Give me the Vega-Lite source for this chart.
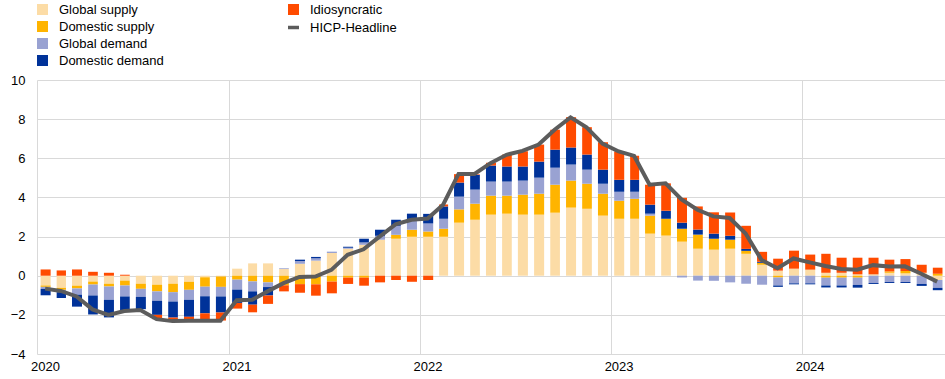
{
  "$schema": "https://vega.github.io/schema/vega-lite/v6.json",
  "width": 908,
  "height": 274,
  "autosize": {"type": "none"},
  "padding": {"left": 37, "top": 80, "right": 0, "bottom": 25},
  "config": {
    "font": "Liberation Sans",
    "view": {"stroke": null},
    "legend": {"padding": 0},
    "axisY": {
      "values": [-4, -2, 0, 2, 4, 6, 8, 10],
      "grid": true,
      "gridColor": "#d9d9d9",
      "gridWidth": 1,
      "domain": false,
      "ticks": false,
      "labelPadding": 12,
      "labelFontSize": 13,
      "labelColor": "#000000",
      "labelFont": "Liberation Sans",
      "title": null
    },
    "axisX": {
      "grid": true,
      "gridColor": "#d9d9d9",
      "gridWidth": 1,
      "domain": false,
      "ticks": false,
      "labelAlign": "center",
      "labelOffset": 8,
      "labelPadding": 6,
      "labelFontSize": 13,
      "labelColor": "#000000",
      "labelFont": "Liberation Sans",
      "title": null
    }
  },
  "data": {
    "values": [
      {"month": "2020-01", "Global supply": -0.5, "Domestic supply": -0.07, "Global demand": -0.1, "Domestic demand": -0.33, "Idiosyncratic": 0.32, "HICP": -0.66},
      {"month": "2020-02", "Global supply": -0.62, "Domestic supply": -0.1, "Global demand": -0.12, "Domestic demand": -0.3, "Idiosyncratic": 0.27, "HICP": -0.78},
      {"month": "2020-03", "Global supply": -0.51, "Domestic supply": -0.14, "Global demand": -0.32, "Domestic demand": -0.61, "Idiosyncratic": 0.32, "HICP": -1.06},
      {"month": "2020-04", "Global supply": -0.3, "Domestic supply": -0.15, "Global demand": -0.56, "Domestic demand": -0.97, "Idiosyncratic": 0.2, "HICP": -1.72},
      {"month": "2020-05", "Global supply": -0.41, "Domestic supply": -0.14, "Global demand": -0.68, "Domestic demand": -0.9, "Idiosyncratic": 0.15, "HICP": -2.0},
      {"month": "2020-06", "Global supply": -0.25, "Domestic supply": -0.25, "Global demand": -0.56, "Domestic demand": -0.7, "Idiosyncratic": 0.05, "HICP": -1.8},
      {"month": "2020-07", "Global supply": -0.41, "Domestic supply": -0.26, "Global demand": -0.41, "Domestic demand": -0.63, "Idiosyncratic": 0, "HICP": -1.75},
      {"month": "2020-08", "Global supply": -0.46, "Domestic supply": -0.34, "Global demand": -0.48, "Domestic demand": -0.72, "Idiosyncratic": -0.22, "HICP": -2.22},
      {"month": "2020-09", "Global supply": -0.41, "Domestic supply": -0.43, "Global demand": -0.48, "Domestic demand": -0.82, "Idiosyncratic": -0.12, "HICP": -2.32},
      {"month": "2020-10", "Global supply": -0.31, "Domestic supply": -0.41, "Global demand": -0.51, "Domestic demand": -0.87, "Idiosyncratic": -0.15, "HICP": -2.3},
      {"month": "2020-11", "Global supply": -0.08, "Domestic supply": -0.48, "Global demand": -0.49, "Domestic demand": -0.87, "Idiosyncratic": -0.31, "HICP": -2.3},
      {"month": "2020-12", "Global supply": -0.04, "Domestic supply": -0.53, "Global demand": -0.49, "Domestic demand": -0.82, "Idiosyncratic": -0.41, "HICP": -2.3},
      {"month": "2021-01", "Global supply": 0.36, "Domestic supply": -0.2, "Global demand": -0.51, "Domestic demand": -0.68, "Idiosyncratic": -0.29, "HICP": -1.25},
      {"month": "2021-02", "Global supply": 0.63, "Domestic supply": -0.29, "Global demand": -0.51, "Domestic demand": -0.68, "Idiosyncratic": -0.39, "HICP": -1.23},
      {"month": "2021-03", "Global supply": 0.63, "Domestic supply": -0.34, "Global demand": -0.24, "Domestic demand": -0.43, "Idiosyncratic": -0.43, "HICP": -0.8},
      {"month": "2021-04", "Global supply": 0.34, "Domestic supply": -0.49, "Global demand": 0.04, "Domestic demand": 0, "Idiosyncratic": -0.31, "HICP": -0.38},
      {"month": "2021-05", "Global supply": 0.61, "Domestic supply": -0.43, "Global demand": 0.14, "Domestic demand": 0.07, "Idiosyncratic": -0.44, "HICP": -0.06},
      {"month": "2021-06", "Global supply": 0.77, "Domestic supply": -0.44, "Global demand": 0.12, "Domestic demand": 0.07, "Idiosyncratic": -0.58, "HICP": -0.04},
      {"month": "2021-07", "Global supply": 1.16, "Domestic supply": -0.3, "Global demand": 0.07, "Domestic demand": 0, "Idiosyncratic": -0.6, "HICP": 0.3},
      {"month": "2021-08", "Global supply": 1.38, "Domestic supply": -0.1, "Global demand": 0.05, "Domestic demand": 0.05, "Idiosyncratic": -0.32, "HICP": 1.07},
      {"month": "2021-09", "Global supply": 1.58, "Domestic supply": -0.1, "Global demand": 0.12, "Domestic demand": 0.19, "Idiosyncratic": -0.41, "HICP": 1.35},
      {"month": "2021-10", "Global supply": 1.84, "Domestic supply": 0, "Global demand": 0.2, "Domestic demand": 0.31, "Idiosyncratic": -0.34, "HICP": 2.0},
      {"month": "2021-11", "Global supply": 1.89, "Domestic supply": 0.2, "Global demand": 0.46, "Domestic demand": 0.31, "Idiosyncratic": -0.22, "HICP": 2.62},
      {"month": "2021-12", "Global supply": 1.99, "Domestic supply": 0.36, "Global demand": 0.55, "Domestic demand": 0.27, "Idiosyncratic": -0.31, "HICP": 2.86},
      {"month": "2022-01", "Global supply": 1.99, "Domestic supply": 0.27, "Global demand": 0.41, "Domestic demand": 0.49, "Idiosyncratic": -0.22, "HICP": 2.92},
      {"month": "2022-02", "Global supply": 1.99, "Domestic supply": 0.41, "Global demand": 0.51, "Domestic demand": 0.63, "Idiosyncratic": 0.1, "HICP": 3.63},
      {"month": "2022-03", "Global supply": 2.71, "Domestic supply": 0.68, "Global demand": 0.65, "Domestic demand": 0.72, "Idiosyncratic": 0.43, "HICP": 5.2},
      {"month": "2022-04", "Global supply": 2.86, "Domestic supply": 0.82, "Global demand": 0.72, "Domestic demand": 0.75, "Idiosyncratic": 0.03, "HICP": 5.2},
      {"month": "2022-05", "Global supply": 3.12, "Domestic supply": 0.97, "Global demand": 0.72, "Domestic demand": 0.82, "Idiosyncratic": 0.14, "HICP": 5.75},
      {"month": "2022-06", "Global supply": 3.17, "Domestic supply": 0.92, "Global demand": 0.72, "Domestic demand": 0.77, "Idiosyncratic": 0.61, "HICP": 6.18},
      {"month": "2022-07", "Global supply": 3.12, "Domestic supply": 1.02, "Global demand": 0.72, "Domestic demand": 0.72, "Idiosyncratic": 0.78, "HICP": 6.38},
      {"month": "2022-08", "Global supply": 3.12, "Domestic supply": 1.07, "Global demand": 0.82, "Domestic demand": 0.82, "Idiosyncratic": 0.87, "HICP": 6.7},
      {"month": "2022-09", "Global supply": 3.22, "Domestic supply": 1.43, "Global demand": 0.87, "Domestic demand": 0.92, "Idiosyncratic": 1.02, "HICP": 7.46},
      {"month": "2022-10", "Global supply": 3.48, "Domestic supply": 1.38, "Global demand": 0.82, "Domestic demand": 0.87, "Idiosyncratic": 1.55, "HICP": 8.09},
      {"month": "2022-11", "Global supply": 3.42, "Domestic supply": 1.28, "Global demand": 0.72, "Domestic demand": 0.77, "Idiosyncratic": 1.4, "HICP": 7.58},
      {"month": "2022-12", "Global supply": 3.07, "Domestic supply": 1.12, "Global demand": 0.51, "Domestic demand": 0.72, "Idiosyncratic": 1.4, "HICP": 6.75},
      {"month": "2023-01", "Global supply": 2.91, "Domestic supply": 0.92, "Global demand": 0.46, "Domestic demand": 0.61, "Idiosyncratic": 1.45, "HICP": 6.35},
      {"month": "2023-02", "Global supply": 2.91, "Domestic supply": 1.02, "Global demand": 0.36, "Domestic demand": 0.61, "Idiosyncratic": 1.23, "HICP": 6.12},
      {"month": "2023-03", "Global supply": 2.15, "Domestic supply": 0.92, "Global demand": 0.1, "Domestic demand": 0.46, "Idiosyncratic": 1.02, "HICP": 4.65},
      {"month": "2023-04", "Global supply": 2.05, "Domestic supply": 0.86, "Global demand": 0, "Domestic demand": 0.41, "Idiosyncratic": 1.4, "HICP": 4.72},
      {"month": "2023-05", "Global supply": 1.74, "Domestic supply": 0.66, "Global demand": -0.09, "Domestic demand": 0.31, "Idiosyncratic": 1.27, "HICP": 3.9},
      {"month": "2023-06", "Global supply": 1.38, "Domestic supply": 0.72, "Global demand": -0.25, "Domestic demand": 0.26, "Idiosyncratic": 1.18, "HICP": 3.37},
      {"month": "2023-07", "Global supply": 1.33, "Domestic supply": 0.56, "Global demand": -0.26, "Domestic demand": 0.26, "Idiosyncratic": 1.09, "HICP": 3.03},
      {"month": "2023-08", "Global supply": 1.38, "Domestic supply": 0.46, "Global demand": -0.34, "Domestic demand": 0.2, "Idiosyncratic": 1.19, "HICP": 2.95},
      {"month": "2023-09", "Global supply": 1.12, "Domestic supply": 0.15, "Global demand": -0.41, "Domestic demand": 0.1, "Idiosyncratic": 1.18, "HICP": 2.16},
      {"month": "2023-10", "Global supply": 0.56, "Domestic supply": 0.1, "Global demand": -0.46, "Domestic demand": 0.05, "Idiosyncratic": 0.51, "HICP": 0.8},
      {"month": "2023-11", "Global supply": 0.26, "Domestic supply": -0.09, "Global demand": -0.41, "Domestic demand": -0.07, "Idiosyncratic": 0.61, "HICP": 0.38},
      {"month": "2023-12", "Global supply": 0.36, "Domestic supply": 0, "Global demand": -0.39, "Domestic demand": -0.05, "Idiosyncratic": 0.92, "HICP": 0.88},
      {"month": "2024-01", "Global supply": 0.31, "Domestic supply": 0, "Global demand": -0.39, "Domestic demand": -0.05, "Idiosyncratic": 0.77, "HICP": 0.68},
      {"month": "2024-02", "Global supply": 0.15, "Domestic supply": -0.1, "Global demand": -0.4, "Domestic demand": -0.1, "Idiosyncratic": 0.97, "HICP": 0.5},
      {"month": "2024-03", "Global supply": 0.15, "Domestic supply": -0.1, "Global demand": -0.4, "Domestic demand": -0.1, "Idiosyncratic": 0.77, "HICP": 0.34},
      {"month": "2024-04", "Global supply": 0.07, "Domestic supply": -0.1, "Global demand": -0.37, "Domestic demand": -0.14, "Idiosyncratic": 0.85, "HICP": 0.31},
      {"month": "2024-05", "Global supply": 0.07, "Domestic supply": 0, "Global demand": -0.37, "Domestic demand": -0.05, "Idiosyncratic": 0.85, "HICP": 0.54},
      {"month": "2024-06", "Global supply": 0.15, "Domestic supply": 0.07, "Global demand": -0.32, "Domestic demand": -0.05, "Idiosyncratic": 0.6, "HICP": 0.47},
      {"month": "2024-07", "Global supply": 0.12, "Domestic supply": 0.12, "Global demand": -0.32, "Domestic demand": -0.05, "Idiosyncratic": 0.61, "HICP": 0.48},
      {"month": "2024-08", "Global supply": 0.15, "Domestic supply": 0, "Global demand": -0.42, "Domestic demand": -0.1, "Idiosyncratic": 0.41, "HICP": 0.1},
      {"month": "2024-09", "Global supply": -0.22, "Domestic supply": 0.1, "Global demand": -0.4, "Domestic demand": -0.12, "Idiosyncratic": 0.31, "HICP": -0.3}
    ]
  },
  "encoding": {
    "x": {
      "field": "month",
      "timeUnit": "utcyearmonth",
      "type": "temporal",
      "scale": {"domain": [{"year": 2020, "month": 1, "date": 1, "utc": true}, {"year": 2024, "month": 10, "date": 1, "utc": true}]},
      "axis": {
        "values": [{"year": 2020, "utc": true}, {"year": 2021, "utc": true}, {"year": 2022, "utc": true}, {"year": 2023, "utc": true}, {"year": 2024, "utc": true}],
        "format": "%Y"
      }
    }
  },
  "layer": [
    {
      "transform": [
        {"fold": ["Global supply", "Domestic supply", "Global demand", "Domestic demand", "Idiosyncratic"], "as": ["component", "value"]},
        {"window": [{"op": "row_number", "as": "rank"}], "groupby": ["month"]}
      ],
      "mark": {"type": "bar", "width": {"band": 0.68}},
      "encoding": {
        "y": {
          "field": "value",
          "type": "quantitative",
          "stack": "zero",
          "scale": {"domain": [-4, 10], "nice": false, "zero": false}
        },
        "order": {"field": "rank", "type": "quantitative", "sort": "ascending"},
        "fill": {
          "field": "component",
          "type": "nominal",
          "scale": {
            "domain": ["Global supply", "Domestic supply", "Global demand", "Domestic demand", "Idiosyncratic"],
            "range": ["#fcdca6", "#ffb400", "#99a2d2", "#003299", "#ff4b00"]
          },
          "legend": {
            "values": ["Global supply", "Domestic supply", "Global demand", "Domestic demand"],
            "title": null,
            "orient": "none",
            "legendX": -1,
            "legendY": -77,
            "symbolType": "square",
            "symbolSize": 121,
            "symbolStrokeWidth": 0,
            "labelFontSize": 13,
            "labelFont": "Liberation Sans",
            "labelColor": "#000000",
            "labelOffset": 10,
            "rowPadding": 3
          }
        }
      }
    },
    {
      "mark": {"type": "line", "strokeWidth": 4, "interpolate": "linear"},
      "encoding": {
        "x": {
          "field": "month",
          "timeUnit": "utcyearmonth",
          "type": "temporal",
          "bandPosition": 0.5,
          "axis": {
            "values": [{"year": 2020, "utc": true}, {"year": 2021, "utc": true}, {"year": 2022, "utc": true}, {"year": 2023, "utc": true}, {"year": 2024, "utc": true}],
            "format": "%Y"
          }
        },
        "y": {"field": "HICP", "type": "quantitative"},
        "stroke": {
          "datum": "HICP-Headline",
          "type": "nominal",
          "scale": {"domain": ["Idiosyncratic", "HICP-Headline"], "range": ["#ff4b00", "#5c5c5c"]},
          "legend": {
            "title": null,
            "orient": "none",
            "legendX": 250,
            "legendY": -77,
            "symbolSize": 121,
            "labelFontSize": 13,
            "labelFont": "Liberation Sans",
            "labelColor": "#000000",
            "labelOffset": 10,
            "rowPadding": 3,
            "encode": {
              "symbols": {
                "update": {
                  "shape": {"signal": "datum.value === 'Idiosyncratic' ? 'square' : 'stroke'"},
                  "fill": {"signal": "datum.value === 'Idiosyncratic' ? '#ff4b00' : 'transparent'"},
                  "strokeWidth": {"signal": "datum.value === 'Idiosyncratic' ? 0 : 3.5"}
                }
              }
            }
          }
        }
      }
    }
  ]
}
